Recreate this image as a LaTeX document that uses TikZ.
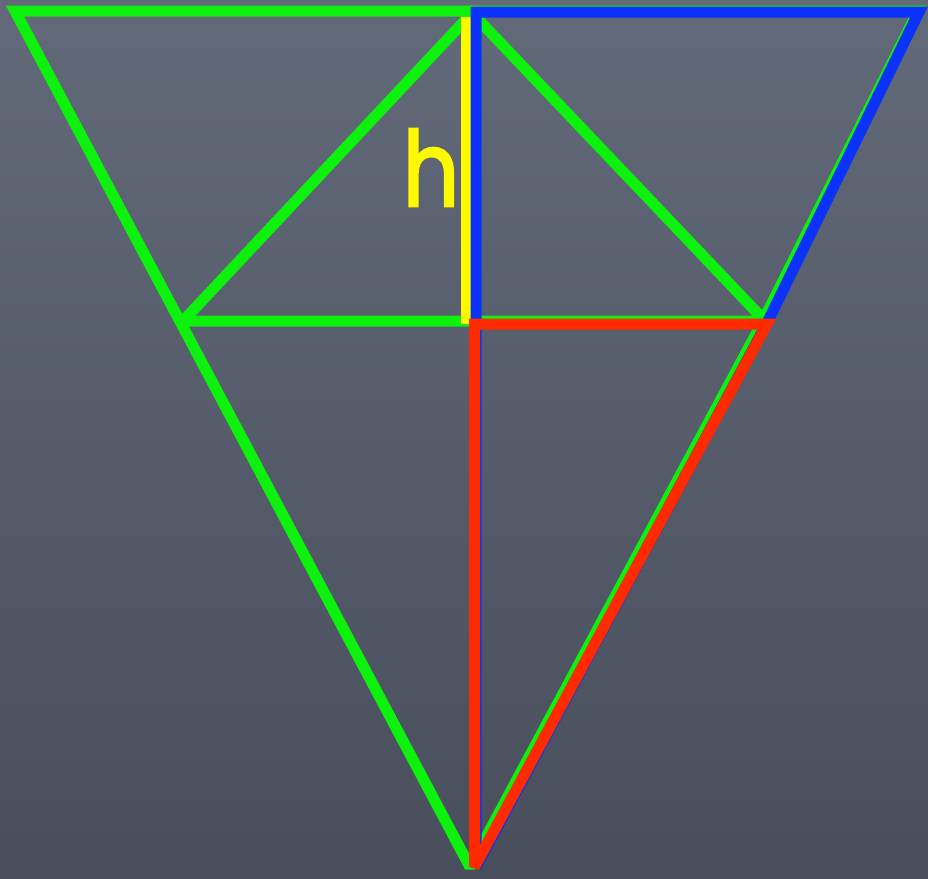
\documentclass[tikz,border=0pt]{standalone}
\usepackage{fontspec}
\newfontfamily\hfont[FakeBold=2.5]{Poppins}
\definecolor{bgtop}{RGB}{98,105,120}
\definecolor{bgbot}{RGB}{72,78,92}
\definecolor{lgreen}{RGB}{12,242,12}
\definecolor{lblue}{RGB}{10,50,250}
\definecolor{lred}{RGB}{255,42,0}
\definecolor{lyellow}{RGB}{255,250,0}
\tikzset{
  seg/.style={line width=11pt, line join=miter, miter limit=2},
}
\begin{document}
\begin{tikzpicture}[x=1pt,y=-1pt]
\useasboundingbox (0,0) rectangle (928,878);
\shade[top color=bgtop, bottom color=bgbot] (0,0) rectangle (928,878);
% green big triangle
\coordinate (gA) at (15,11);
\coordinate (gB) at (918,11);
\coordinate (gC) at (763,321);
\coordinate (gD) at (470,867);
\draw[seg, lgreen] (gA) -- (gB) -- (gC) -- (gD) -- cycle;
% green inner triangle
\coordinate (iL) at (183,321);
\coordinate (iT) at (472,13);
\coordinate (iR) at (765,321);
\draw[seg, lgreen] (iL) -- (iT) -- (iR) -- cycle;
% yellow height
\coordinate (yT) at (466,17);
\coordinate (yB) at (466,324);
\draw[line width=10pt, lyellow] (yT) -- (yB);
% blue triangle
\coordinate (bA) at (476,12);
\coordinate (bB) at (919,12);
\coordinate (bC) at (767,323);
\coordinate (bD) at (476,867);
\draw[seg, lblue] (bA) -- (bB) -- (bC) -- (bD) -- cycle;
% red triangle
\coordinate (rA) at (474.5,324);
\coordinate (rB) at (767,324);
\coordinate (rC) at (474.5,867);
\draw[seg, lred] (rA) -- (rB) -- (rC) -- cycle;
% label
\node[anchor=base, text=lyellow, font=\hfont\fontsize{104}{104}\selectfont, inner sep=0pt, xscale=0.85] (h) at (431,206) {h};
\end{tikzpicture}
\end{document}
